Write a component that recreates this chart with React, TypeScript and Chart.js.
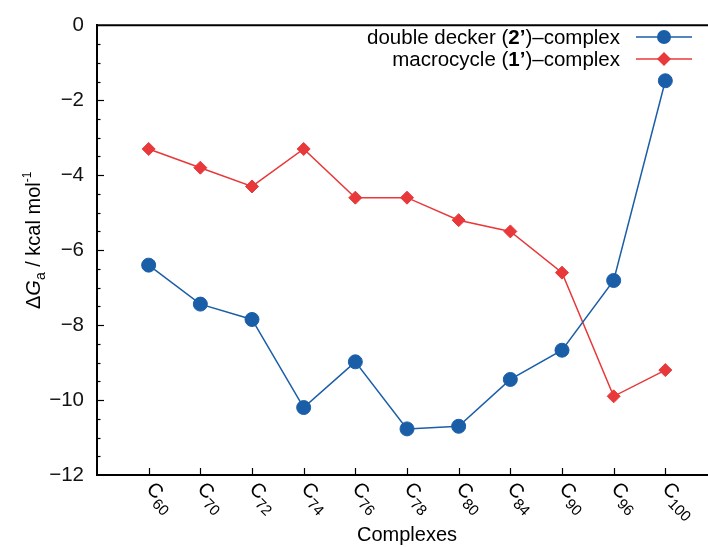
import { useEffect, useRef } from "react";
import { Chart, registerables } from "chart.js";

Chart.register(...registerables);

// ---- data ----
const categories = ["60", "70", "72", "74", "76", "78", "80", "84", "90", "96", "100"];
const doubleDecker = [-6.4, -7.44, -7.85, -10.2, -8.98, -10.77, -10.7, -9.45, -8.67, -6.81, -1.48];
const macrocycle = [-3.3, -3.8, -4.3, -3.3, -4.6, -4.6, -5.2, -5.5, -6.6, -9.9, -9.2];
const yTickValues = [0, -2, -4, -6, -8, -10, -12];
const seriesNames = ["double decker (2’)–complex", "macrocycle (1’)–complex"];
const legendParts = [
  [["double decker (", false], ["2’", true], [")–complex", false]],
  [["macrocycle (", false], ["1’", true], [")–complex", false]],
] as [string, boolean][][];
const xTitle = "Complexes";

const BLUE = "#1b5ea8";
const RED = "#e8383a";
const FONT = "'Liberation Sans', Arial, Helvetica, sans-serif";

const overlayPlugin = {
  id: "overlay",
  afterDraw(chart: any) {
    const ctx: CanvasRenderingContext2D = chart.ctx;
    const { left, right, top, bottom } = chart.chartArea;
    const xs = chart.scales.x;
    const ys = chart.scales.y;
    ctx.save();
    ctx.strokeStyle = "#000";
    ctx.fillStyle = "#000";

    // top frame line
    ctx.lineWidth = 2;
    ctx.beginPath();
    ctx.moveTo(left - 1, top);
    ctx.lineTo(right + 1, top);
    ctx.stroke();

    // inner y ticks (major 2, minor 0.5)
    const yMin = Math.min(...yTickValues);
    const yMax = Math.max(...yTickValues);
    ctx.lineWidth = 1.2;
    for (let k = 0; k <= (yMax - yMin) / 0.5; k++) {
      const v = yMin + k * 0.5;
      const py = Math.round(ys.getPixelForValue(v)) + 0.5;
      const major = k % 4 === 0;
      if (v === yMax || v === yMin) continue;
      ctx.beginPath();
      ctx.moveTo(left, py);
      ctx.lineTo(left + (major ? 7 : 3.5), py);
      ctx.stroke();
    }

    // inner x ticks + rotated labels with subscripts
    categories.forEach((c, i) => {
      const px = Math.round(xs.getPixelForValue(i)) + 0.5;
      ctx.beginPath();
      ctx.moveTo(px, bottom);
      ctx.lineTo(px, bottom - 7);
      ctx.stroke();

      ctx.save();
      ctx.translate(px, bottom + 11);
      ctx.rotate(Math.PI / 4);
      ctx.textAlign = "left";
      ctx.textBaseline = "middle";
      ctx.font = `20px ${FONT}`;
      ctx.fillText("C", 0, 0);
      const w = ctx.measureText("C").width;
      ctx.font = `15px ${FONT}`;
      ctx.fillText(c, w, 8);
      ctx.restore();
    });

    // x title
    ctx.font = `20px ${FONT}`;
    ctx.textAlign = "center";
    ctx.textBaseline = "middle";
    ctx.fillText(xTitle, (left + right) / 2, 535);

    // y title: ΔG_a / kcal mol^-1
    ctx.save();
    ctx.translate(40, 309);
    ctx.rotate(-Math.PI / 2);
    ctx.textAlign = "left";
    ctx.textBaseline = "alphabetic";
    let x = 0;
    ctx.font = `20px ${FONT}`;
    ctx.fillText("Δ", x, 0);
    x += ctx.measureText("Δ").width;
    ctx.font = `italic 20px ${FONT}`;
    ctx.fillText("G", x, 0);
    x += ctx.measureText("G").width;
    ctx.font = `14px ${FONT}`;
    ctx.fillText("a", x, 5);
    x += ctx.measureText("a").width;
    ctx.font = `20px ${FONT}`;
    ctx.fillText(" / kcal mol", x, 0);
    x += ctx.measureText(" / kcal mol").width;
    ctx.font = `12px ${FONT}`;
    ctx.fillText("-1", x, -9);
    ctx.restore();

    // legend
    const rows = [37, 59];
    const colors = [BLUE, RED];
    const styles = ["circle", "rectRot"];
    const textRight = 620;
    legendParts.forEach((parts, r) => {
      const y = rows[r];
      let total = 0;
      parts.forEach(([t, b]) => {
        ctx.font = `${b ? "bold " : ""}20.5px ${FONT}`;
        total += ctx.measureText(t).width;
      });
      let tx = textRight - total;
      ctx.fillStyle = "#000";
      ctx.textAlign = "left";
      ctx.textBaseline = "middle";
      parts.forEach(([t, b]) => {
        ctx.font = `${b ? "bold " : ""}20.5px ${FONT}`;
        ctx.fillText(t, tx, y + 1);
        tx += ctx.measureText(t).width;
      });
      ctx.strokeStyle = colors[r];
      ctx.lineWidth = 1.5;
      ctx.beginPath();
      ctx.moveTo(636, y);
      ctx.lineTo(692, y);
      ctx.stroke();
      ctx.fillStyle = colors[r];
      ctx.beginPath();
      if (styles[r] === "circle") {
        ctx.arc(664, y, 7, 0, Math.PI * 2);
      } else {
        ctx.moveTo(664, y - 7);
        ctx.lineTo(671, y);
        ctx.lineTo(664, y + 7);
        ctx.lineTo(657, y);
        ctx.closePath();
      }
      ctx.fill();
    });

    ctx.restore();
  },
};

export default function App() {
  const ref = useRef<HTMLCanvasElement | null>(null);

  useEffect(() => {
    if (!ref.current) return;
    const chart = new Chart(ref.current, {
      type: "line",
      data: {
        datasets: [
          {
            label: seriesNames[0],
            data: doubleDecker.map((y, i) => ({ x: i, y })),
            borderColor: BLUE,
            backgroundColor: BLUE,
            pointBackgroundColor: BLUE,
            pointBorderColor: BLUE,
            pointStyle: "circle",
            pointRadius: 7,
            pointBorderWidth: 1,
            borderWidth: 1.5,
            tension: 0,
          },
          {
            label: seriesNames[1],
            data: macrocycle.map((y, i) => ({ x: i, y })),
            borderColor: RED,
            backgroundColor: RED,
            pointBackgroundColor: RED,
            pointBorderColor: RED,
            pointStyle: "rectRot",
            pointRadius: 6.5,
            pointBorderWidth: 1,
            borderWidth: 1.5,
            tension: 0,
          },
        ],
      },
      options: {
        responsive: false,
        animation: false,
        layout: { padding: { top: 20, right: 23, left: 0, bottom: 0 } },
        plugins: { legend: { display: false }, tooltip: { enabled: false } },
        scales: {
          x: {
            type: "linear",
            min: -1,
            max: categories.length,
            grid: { display: false, drawTicks: false },
            ticks: { display: false },
            border: { display: true, color: "#000", width: 2 },
            afterFit: (s: any) => {
              s.height = 72;
            },
          },
          y: {
            type: "linear",
            min: Math.min(...yTickValues),
            max: Math.max(...yTickValues),
            grid: { display: false, drawTicks: false },
            border: { display: true, color: "#000", width: 2 },
            ticks: {
              stepSize: 2,
              padding: 13,
              color: "#111",
              font: { size: 20.5, family: FONT },
              callback: (v: any) => String(v).replace("-", "−"),
            },
            afterFit: (s: any) => {
              s.width = 97;
            },
          },
        },
      },
      plugins: [overlayPlugin],
    });
    return () => chart.destroy();
  }, []);

  return (
    <div style={{ position: "fixed", left: 0, top: 0, width: 708, height: 547, overflow: "hidden", background: "#fff" }}>
      <canvas ref={ref} width={740} height={547} style={{ display: "block" }} />
    </div>
  );
}
